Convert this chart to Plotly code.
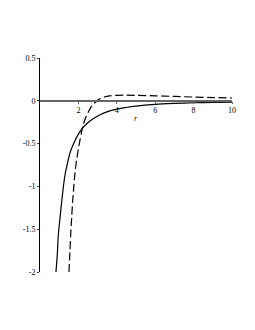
import plotly.graph_objects as go

# Solid curve samples (r, y)
solid_r = [0.83, 0.9, 0.95, 1.05, 1.13, 1.22, 1.3, 1.42, 1.56, 1.73, 2.0, 2.25, 2.6, 3.1, 3.63, 4.2, 5.0, 6.0, 7.0, 8.0, 9.0, 10.0]
solid_y = [-2.0, -1.8, -1.58, -1.35, -1.18, -1.0, -0.87, -0.74, -0.61, -0.51, -0.39, -0.31, -0.235, -0.165, -0.118, -0.088, -0.062, -0.042, -0.031, -0.023, -0.018, -0.015]

# Dashed curve samples (r, y)
dash_r = [1.51, 1.56, 1.6, 1.65, 1.7, 1.76, 1.82, 1.9, 2.0, 2.08, 2.16, 2.25, 2.37, 2.5, 2.64, 2.78, 2.95, 3.1, 3.35, 3.63, 4.0, 4.5, 5.0, 6.0, 7.0, 8.0, 9.0, 10.0]
dash_y = [-2.0, -1.75, -1.56, -1.36, -1.18, -1.0, -0.85, -0.7, -0.56, -0.46, -0.37, -0.28, -0.2, -0.14, -0.08, -0.04, -0.005, 0.02, 0.045, 0.058, 0.064, 0.066, 0.064, 0.058, 0.051, 0.044, 0.038, 0.033]

x_ticks = [2, 4, 6, 8, 10]
x_ticklabels = ["2", "4", "6", "8", "10"]
y_ticks = [0.5, 0, -0.5, -1, -1.5, -2]
y_ticklabels = ["0.5", "0", "-0.5", "-1", "-1.5", "-2"]

font = "Liberation Serif"

fig = go.Figure()
fig.add_trace(go.Scatter(x=solid_r, y=solid_y, mode="lines",
                         line=dict(color="black", width=1.2, shape="spline", smoothing=0.8)))
fig.add_trace(go.Scatter(x=dash_r, y=dash_y, mode="lines",
                         line=dict(color="black", width=1.2, dash="8px,3.5px", shape="spline", smoothing=0.8)))

fig.update_layout(
    width=247, height=322,
    margin=dict(l=32, r=23, t=50, b=58),
    paper_bgcolor="white", plot_bgcolor="white",
    showlegend=False,
    font=dict(family=font, size=8, color="black"),
    xaxis=dict(range=[0, 10], anchor="free", position=0.8,
               showline=True, linecolor="#666", linewidth=1.5,
               tickvals=x_ticks, ticktext=x_ticklabels,
               ticks="outside", ticklen=2, tickcolor="#666",
               showgrid=False, zeroline=False, automargin=False,
               tickfont=dict(family=font, size=8, color="black")),
    yaxis=dict(range=[-2, 0.5],
               showline=True, linecolor="black", linewidth=1,
               tickvals=y_ticks, ticktext=y_ticklabels,
               ticks="outside", ticklen=2,
               showgrid=False, zeroline=False, automargin=False,
               tickfont=dict(family=font, size=8, color="black")),
    annotations=[
        dict(text="<i>r</i>", x=5.0, y=-0.13, xref="x", yref="y", showarrow=False,
             font=dict(family=font, size=8, color="black"), yanchor="top"),
        dict(text="<i>y</i>", x=-1.35, y=-1, xref="x", yref="y", showarrow=False,
             font=dict(family=font, size=8, color="black")),
    ],
)

fig.write_html("out.html")
